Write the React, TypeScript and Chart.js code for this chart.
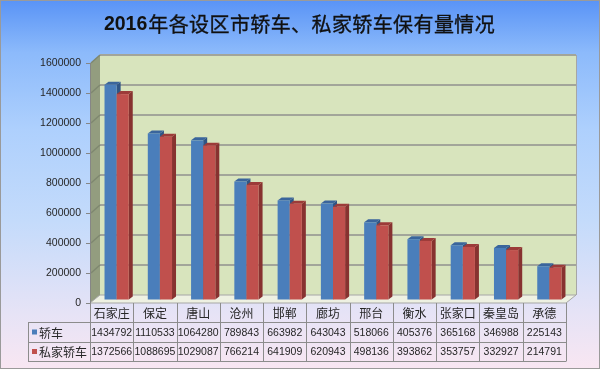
import React, { useEffect, useRef } from "react";
import { Chart, registerables } from "chart.js";

Chart.register(...registerables);

const categories = ["石家庄", "保定", "唐山", "沧州", "邯郸", "廊坊", "邢台", "衡水", "张家口", "秦皇岛", "承德"];
const sedanValues = [1434792, 1110533, 1064280, 789843, 663982, 643043, 518066, 405376, 365168, 346988, 225143];
const privateSedanValues = [1372566, 1088695, 1029087, 766214, 641909, 620943, 498136, 393862, 353757, 332927, 214791];
const seriesNames = ["轿车", "私家轿车"];
const titleYear = "2016";
const titleRest = "年各设区市轿车、私家轿车保有量情况";

const DX = 10; // depth offset of back wall
const DY = 8;
const BOX = 5; // bar front-face shift
const BOY = 3;
const BDX = 4; // bar own depth
const BDY = 3;

const faceColors = [
  { front: "#4a7ebb", top: "#3a659c", side: "#2f5586" },
  { front: "#c0504d", top: "#9c3b39", side: "#873230" },
];

const CJK = '"Noto Sans CJK SC", "Liberation Sans", sans-serif';
const NUM = '"Liberation Sans", "Noto Sans CJK SC", sans-serif';

const scenePlugin = {
  id: "scene3d",
  beforeDraw(chart: any) {
    const { ctx, chartArea } = chart;
    const y = chart.scales.y;
    const L = chartArea.left, R = chartArea.right, T = chartArea.top, B = chartArea.bottom;
    ctx.save();
    ctx.fillStyle = "#d8e4bd";
    ctx.fillRect(L + DX, T - DY, R - L, B - T);
    ctx.fillStyle = "#939d7f";
    ctx.beginPath();
    ctx.moveTo(L + 0.5, T);
    ctx.lineTo(L + DX, T - DY);
    ctx.lineTo(L + DX, B - DY);
    ctx.lineTo(L + 0.5, B);
    ctx.closePath();
    ctx.fill();
    ctx.fillStyle = "#eef1e2";
    ctx.strokeStyle = "#a6a6a6";
    ctx.lineWidth = 1;
    ctx.beginPath();
    ctx.moveTo(L, B);
    ctx.lineTo(L + DX, B - DY);
    ctx.lineTo(R + DX, B - DY);
    ctx.lineTo(R, B);
    ctx.closePath();
    ctx.fill();
    ctx.stroke();
    y.ticks.forEach((t: any) => {
      const py = y.getPixelForValue(t.value);
      if (t.value === 0) return;
      ctx.strokeStyle = "#a2a59a";
      ctx.lineWidth = 2;
      ctx.beginPath();
      ctx.moveTo(L + DX, py - DY);
      ctx.lineTo(R + DX, py - DY);
      ctx.stroke();
      ctx.strokeStyle = "#7f8870";
      ctx.lineWidth = 1.5;
      ctx.beginPath();
      ctx.moveTo(L + 1, py);
      ctx.lineTo(L + DX, py - DY);
      ctx.stroke();
    });
    ctx.strokeStyle = "#a6a6a6";
    ctx.lineWidth = 1;
    ctx.beginPath();
    ctx.moveTo(R + DX + 0.5, T - DY);
    ctx.lineTo(R + DX + 0.5, B - DY);
    ctx.stroke();
    ctx.restore();
  },
  afterDatasetsDraw(chart: any) {
    const { ctx } = chart;
    const n = chart.data.labels.length;
    const metas = [chart.getDatasetMeta(0), chart.getDatasetMeta(1)];
    ctx.save();
    for (let i = 0; i < n; i++) {
      metas.forEach((meta: any, di: number) => {
        const el = meta.data[i];
        const w = el.width;
        const x0 = el.x - w / 2 + BOX;
        const x1 = el.x + w / 2 + BOX;
        const yt = el.y - BOY;
        const yb = el.base - BOY;
        const c = faceColors[di];
        ctx.fillStyle = c.side;
        ctx.beginPath();
        ctx.moveTo(x1, yt);
        ctx.lineTo(x1 + BDX, yt - BDY);
        ctx.lineTo(x1 + BDX, yb - BDY);
        ctx.lineTo(x1, yb);
        ctx.closePath();
        ctx.fill();
        ctx.fillStyle = c.top;
        ctx.beginPath();
        ctx.moveTo(x0, yt);
        ctx.lineTo(x0 + BDX, yt - BDY);
        ctx.lineTo(x1 + BDX, yt - BDY);
        ctx.lineTo(x1, yt);
        ctx.closePath();
        ctx.fill();
        ctx.fillStyle = c.front;
        ctx.fillRect(x0, yt, x1 - x0, yb - yt);
      });
    }
    ctx.restore();
  },
  afterDraw(chart: any) {
    const { ctx, chartArea } = chart;
    const x = chart.scales.x;
    const n = chart.data.labels.length;
    const cw = (chartArea.right - chartArea.left) / n;
    const L = chartArea.left;
    const R = chartArea.right;
    const top0 = chartArea.bottom;
    const r1 = 322;
    const r2 = 342;
    const r3 = 361;
    const legL = 28;
    ctx.save();
    // title
    ctx.textBaseline = "middle";
    ctx.textAlign = "left";
    ctx.fillStyle = "#111111";
    const fYear = `bold 19.5px ${NUM}`;
    const fRest = `normal 20px ${CJK}`;
    ctx.font = fYear;
    const wYear = ctx.measureText(titleYear).width;
    ctx.font = fRest;
    (ctx as any).letterSpacing = "0.4px";
    const wRest = ctx.measureText(titleRest).width;
    const tx = 299 - (wYear + wRest) / 2;
    const ty = 24;
    (ctx as any).letterSpacing = "0px";
    ctx.font = fYear;
    ctx.fillText(titleYear, tx, ty + 1);
    ctx.font = fRest;
    (ctx as any).letterSpacing = "0.4px";
    ctx.strokeStyle = "#111111";
    ctx.lineWidth = 0.35;
    ctx.fillText(titleRest, tx + wYear + 1, ty);
    ctx.strokeText(titleRest, tx + wYear + 1, ty);
    (ctx as any).letterSpacing = "0px";

    // table
    ctx.strokeStyle = "#8c8c8c";
    ctx.lineWidth = 1;
    const hl = (xa: number, xb: number, yy: number) => {
      ctx.beginPath();
      ctx.moveTo(xa, Math.round(yy) + 0.5);
      ctx.lineTo(xb, Math.round(yy) + 0.5);
      ctx.stroke();
    };
    const vl = (xx: number, ya: number, yb: number) => {
      ctx.beginPath();
      ctx.moveTo(Math.round(xx) + 0.5, ya);
      ctx.lineTo(Math.round(xx) + 0.5, yb);
      ctx.stroke();
    };
    hl(legL, R, r1);
    hl(legL, R, r2);
    hl(legL, R, r3);
    vl(legL, r1, r3 + 0.5);
    for (let i = 0; i <= n; i++) {
      vl(L + i * cw, top0, r3 + 0.5);
    }
    ctx.textAlign = "center";
    ctx.fillStyle = "#262626";
    for (let i = 0; i < n; i++) {
      const cx = x.getPixelForValue(i);
      ctx.font = `12px ${CJK}`;
      ctx.fillText(categories[i], cx, (top0 + r1) / 2 + 1);
      ctx.font = `10.5px ${NUM}`;
      ctx.fillText(String(sedanValues[i]), cx, (r1 + r2) / 2 + 1);
      ctx.fillText(String(privateSedanValues[i]), cx, (r2 + r3) / 2 + 1);
    }
    ctx.textAlign = "left";
    ctx.font = `12px ${CJK}`;
    [0, 1].forEach((k) => {
      const yy = k === 0 ? (r1 + r2) / 2 : (r2 + r3) / 2;
      ctx.fillStyle = faceColors[k].front;
      ctx.fillRect(32, yy - 2.5, 5, 5);
      ctx.fillStyle = "#262626";
      ctx.fillText(seriesNames[k], 39, yy + 1);
    });
    ctx.restore();
  },
};

export default function App() {
  const ref = useRef<HTMLCanvasElement | null>(null);
  useEffect(() => {
    if (!ref.current) return;
    const chart = new Chart(ref.current, {
      type: "bar",
      data: {
        labels: categories,
        datasets: [
          { label: seriesNames[0], data: sedanValues, backgroundColor: "rgba(0,0,0,0)", borderWidth: 0 },
          { label: seriesNames[1], data: privateSedanValues, backgroundColor: "rgba(0,0,0,0)", borderWidth: 0 },
        ],
      },
      plugins: [scenePlugin],
      options: {
        animation: false,
        responsive: false,
        events: [],
        layout: { padding: { left: 0, right: 34, top: 63, bottom: 0 } },
        datasets: { bar: { categoryPercentage: 0.56, barPercentage: 1.0 } },
        plugins: {
          legend: { display: false },
          tooltip: { enabled: false },
          title: { display: false },
        },
        scales: {
          x: {
            ticks: { display: false },
            grid: { display: false },
            border: { display: false },
            afterFit: (s: any) => { s.height = 66; },
          },
          y: {
            min: 0,
            max: 1600000,
            ticks: {
              stepSize: 200000,
              color: "#262626",
              font: { size: 10.5, family: NUM },
              padding: 5,
              callback: (v: any) => String(v),
            },
            grid: { drawOnChartArea: false, drawTicks: true, tickLength: 4, color: "#868686" },
            border: { display: true, color: "#868686" },
            afterFit: (s: any) => { s.width = 90; },
          },
        },
      },
    });
    return () => chart.destroy();
  }, []);
  return (
    <div
      style={{
        position: "fixed",
        left: 0,
        top: 0,
        width: 600,
        height: 369,
        boxSizing: "border-box",
        border: "1px solid #9a9a9a",
        background: "linear-gradient(180deg, #5a94f6 0%, #8cbafb 14%, #aed0fd 35%, #c4dbfb 60%, #e6e3f6 85%, #f8e6f2 100%)",
        overflow: "hidden",
      }}
    >
      <canvas ref={ref} width={600} height={369} style={{ position: "absolute", left: -1, top: -1, width: 600, height: 369 }} />
    </div>
  );
}
